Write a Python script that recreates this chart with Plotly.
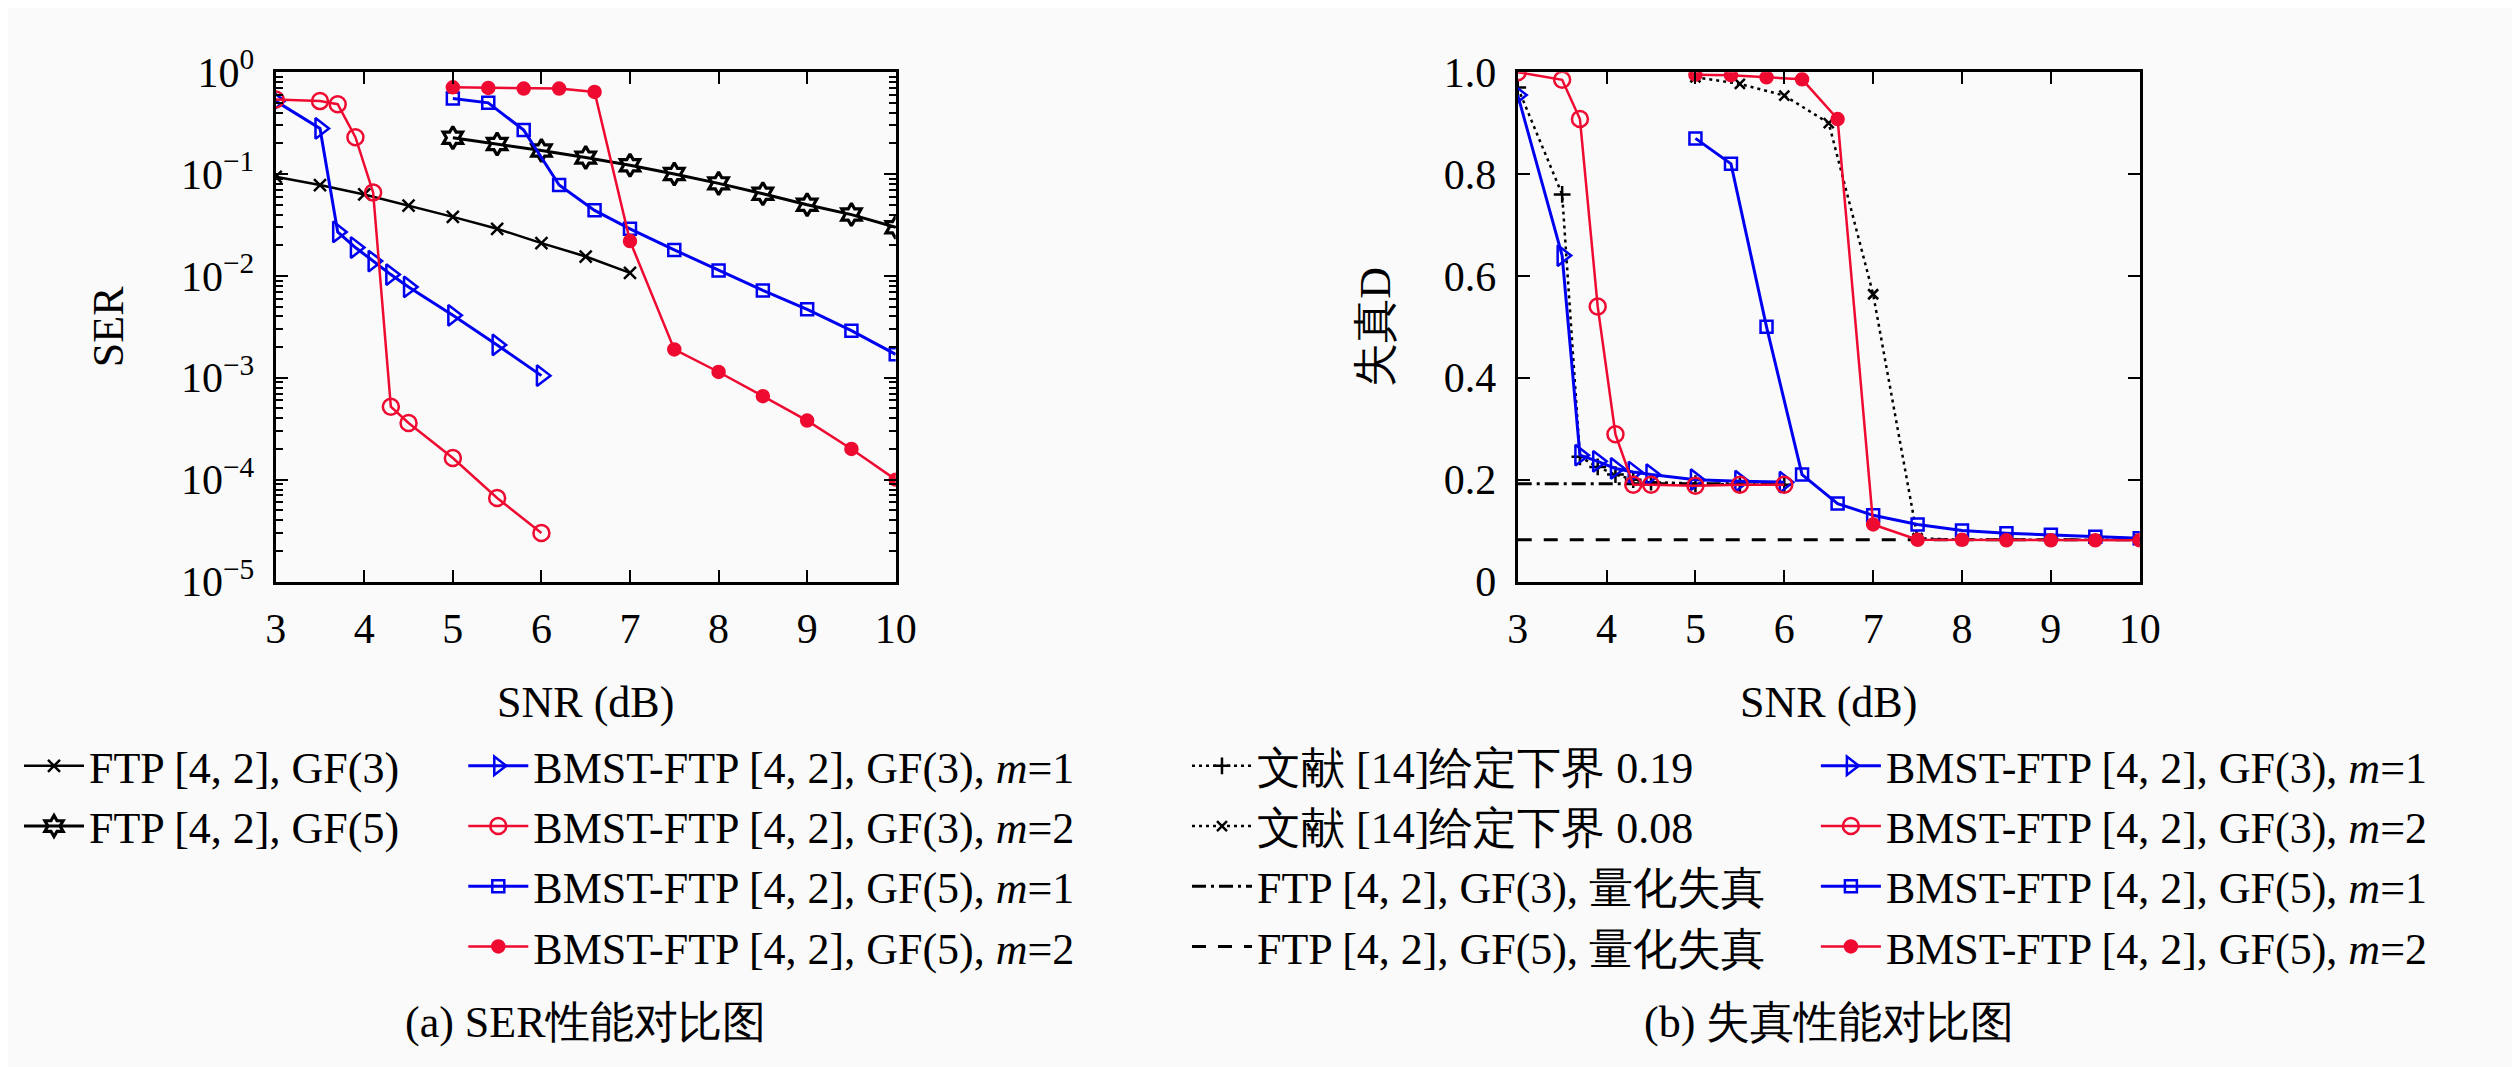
import plotly.graph_objects as go

W, H = 2520, 1067

# ---- (a) SER panel data ----
snr_ftp3 = [3, 3.5, 4, 4.5, 5, 5.5, 6, 6.5, 7]
ser_ftp3 = [0.094, 0.078, 0.063, 0.049, 0.038, 0.029, 0.021, 0.0155, 0.0107]

snr_ftp5 = [5, 5.5, 6, 6.5, 7, 7.5, 8, 8.5, 9, 9.5, 10]
ser_ftp5 = [0.227, 0.197, 0.170, 0.145, 0.122, 0.100, 0.081, 0.064, 0.050, 0.040, 0.030]

snr_gf3 = [3, 3.5, 3.7, 3.9, 4.1, 4.3, 4.5, 5, 5.5, 6]
ser_gf3_m1 = [0.52, 0.28, 0.027, 0.019, 0.014, 0.0103, 0.0078, 0.0041, 0.0021, 0.00105]
ser_gf3_m2 = [0.54, 0.52, 0.485, 0.23, 0.066, 0.00052, 0.00036, 0.000163, 0.000066, 0.00003]

snr_gf5 = [5, 5.4, 5.8, 6.2, 6.6, 7, 7.5, 8, 8.5, 9, 9.5, 10]
ser_gf5_m1 = [0.55, 0.50, 0.27, 0.078, 0.044, 0.029, 0.018, 0.0113, 0.0072, 0.0047, 0.0029, 0.0017]
ser_gf5_m2 = [0.71, 0.70, 0.69, 0.69, 0.64, 0.022, 0.0019, 0.00114, 0.00066, 0.00038, 0.0002, 0.0001]

# ---- (b) distortion panel data ----
snr_ref19 = [3, 3.5, 3.7, 3.9, 4.1, 4.3, 4.5, 5, 5.5, 6]
d_ref19 = [0.97, 0.76, 0.245, 0.225, 0.21, 0.20, 0.195, 0.192, 0.19, 0.19]

snr_ref08 = [5, 5.5, 6, 6.5, 7, 7.5, 8, 8.5, 9, 9.5, 10]
d_ref08 = [0.99, 0.977, 0.954, 0.90, 0.564, 0.085, 0.082, 0.082, 0.082, 0.082, 0.082]

snr_q3 = [3, 6]
d_q3 = [0.192, 0.192]
snr_q5 = [3, 10]
d_q5 = [0.082, 0.082]

d_gf3_m1 = [0.955, 0.64, 0.248, 0.236, 0.222, 0.215, 0.21, 0.20, 0.197, 0.195]
d_gf3_m2 = [1.0, 0.985, 0.908, 0.54, 0.289, 0.19, 0.19, 0.188, 0.19, 0.19]
d_gf5_m1 = [0.87, 0.82, 0.50, 0.21, 0.153, 0.13, 0.112, 0.10, 0.095, 0.092, 0.088, 0.085]
d_gf5_m2 = [0.995, 0.994, 0.99, 0.986, 0.908, 0.112, 0.082, 0.082, 0.081, 0.081, 0.081, 0.081]

# ---- ticks / labels ----
snr_ticks = [3, 4, 5, 6, 7, 8, 9, 10]
ser_ticks = [1, 0.1, 0.01, 0.001, 0.0001, 0.00001]
ser_ticktext = ["10<sup>0</sup>", "10<sup>−1</sup>", "10<sup>−2</sup>",
                "10<sup>−3</sup>", "10<sup>−4</sup>", "10<sup>−5</sup>"]
# minor ticks 2..9 inside each decade
ser_minor = [m * 10.0 ** e for e in range(-5, 0) for m in range(2, 10)]
d_ticks = [0, 0.2, 0.4, 0.6, 0.8, 1.0]
d_ticktext = ["0", "0.2", "0.4", "0.6", "0.8", "1.0"]

name_ftp3 = "FTP [4, 2], GF(3)"
name_ftp5 = "FTP [4, 2], GF(5)"
name_gf3_m1 = "BMST-FTP [4, 2], GF(3), <i>m</i>=1"
name_gf3_m2 = "BMST-FTP [4, 2], GF(3), <i>m</i>=2"
name_gf5_m1 = "BMST-FTP [4, 2], GF(5), <i>m</i>=1"
name_gf5_m2 = "BMST-FTP [4, 2], GF(5), <i>m</i>=2"
name_ref19 = "文献 [14]给定下界 0.19"
name_ref08 = "文献 [14]给定下界 0.08"
name_q3 = "FTP [4, 2], GF(3), 量化失真"
name_q5 = "FTP [4, 2], GF(5), 量化失真"

FONT = "Liberation Serif"
BLUE = "#0000F0"
RED = "#EE0A30"
BG = "#FAFAFA"


def px(x):
    return x / W


def py(y):
    return 1 - y / H


fig = go.Figure()


def add(x, y, name, color, symbol, size, legend, ax, dash="solid", lw=3, mlw=2.5):
    fig.add_trace(go.Scatter(
        x=x, y=y, name=name, mode="lines+markers",
        line=dict(color=color, width=lw, dash=dash),
        marker=dict(symbol=symbol, size=size, color=color,
                    line=dict(color=color, width=mlw)),
        legend=legend,
        xaxis="x" if ax == 1 else "x2",
        yaxis="y" if ax == 1 else "y2",
    ))


# left panel
add(snr_ftp3, ser_ftp3, name_ftp3, "black", "x-thin", 12, "legend", 1, lw=2.5)
add(snr_ftp5, ser_ftp5, name_ftp5, "black", "hexagram-open", 17, "legend", 1, lw=3, mlw=3.2)
add(snr_gf3, ser_gf3_m1, name_gf3_m1, BLUE, "triangle-right-open", 18, "legend2", 1)
add(snr_gf3, ser_gf3_m2, name_gf3_m2, RED, "circle-open", 16, "legend2", 1, lw=2.5)
add(snr_gf5, ser_gf5_m1, name_gf5_m1, BLUE, "square-open", 12, "legend2", 1)
add(snr_gf5, ser_gf5_m2, name_gf5_m2, RED, "circle", 12, "legend2", 1, lw=2.5)

# right panel
add(snr_ref19, d_ref19, name_ref19, "black", "cross-thin", 12, "legend3", 2, dash="3px,4px", lw=2.5)
add(snr_ref08, d_ref08, name_ref08, "black", "x-thin", 10, "legend3", 2, dash="3px,4px", lw=2.5)
fig.add_trace(go.Scatter(x=snr_q3, y=d_q3, name=name_q3, mode="lines",
                         line=dict(color="black", width=3, dash="14px,5px,3px,5px"),
                         legend="legend3", xaxis="x2", yaxis="y2"))
fig.add_trace(go.Scatter(x=snr_q5, y=d_q5, name=name_q5, mode="lines",
                         line=dict(color="black", width=3, dash="14px,12px"),
                         legend="legend3", xaxis="x2", yaxis="y2"))
add(snr_gf3, d_gf3_m1, name_gf3_m1, BLUE, "triangle-right-open", 18, "legend4", 2)
add(snr_gf3, d_gf3_m2, name_gf3_m2, RED, "circle-open", 16, "legend4", 2, lw=2.5)
add(snr_gf5, d_gf5_m1, name_gf5_m1, BLUE, "square-open", 12, "legend4", 2)
add(snr_gf5, d_gf5_m2, name_gf5_m2, RED, "circle", 12, "legend4", 2, lw=2.5)

axis_common = dict(
    showline=True, linecolor="black", linewidth=3, mirror="ticks",
    ticks="inside", ticklen=12, tickwidth=2, tickcolor="black",
    showgrid=False, zeroline=False,
    tickfont=dict(family=FONT, size=42, color="black"),
    title_font=dict(family=FONT, size=44, color="black"),
)

y_dom = [py(573), py(37)]

fig.update_layout(
    width=W, height=H,
    margin=dict(l=0, r=0, t=0, b=0),
    paper_bgcolor=BG, plot_bgcolor=BG,
    font=dict(family=FONT, color="black"),
    xaxis=dict(domain=[px(260), px(888)], range=[3, 10], tickvals=snr_ticks,
               anchor="y", title=dict(text="SNR (dB)", standoff=36),
               ticklabelstandoff=8, **axis_common),
    yaxis=dict(domain=y_dom, type="log", range=[-5, 0], tickvals=ser_ticks,
               ticktext=ser_ticktext, anchor="x",
               minor=dict(tickmode="array", tickvals=ser_minor, ticks="inside",
                          ticklen=7, tickwidth=1.5, tickcolor="black", showgrid=False),
               title=dict(text="SER", standoff=44), ticklabelstandoff=10,
               **axis_common),
    xaxis2=dict(domain=[px(1518), px(2148)], range=[3, 10], tickvals=snr_ticks,
                anchor="y2", title=dict(text="SNR (dB)", standoff=36),
                ticklabelstandoff=8, **axis_common),
    yaxis2=dict(domain=y_dom, range=[0, 1], tickvals=d_ticks, ticktext=d_ticktext,
                anchor="x2", title=dict(text="失真D", standoff=40),
                ticklabelstandoff=10, **axis_common),
)

leg_common = dict(xanchor="left", yanchor="top", bgcolor="rgba(0,0,0,0)",
                  font=dict(family=FONT, size=44, color="black"),
                  tracegroupgap=0, itemwidth=60)
fig.update_layout(
    legend=dict(x=px(0), y=py(730), **leg_common),
    legend2=dict(x=px(450), y=py(730), **leg_common),
    legend3=dict(x=px(1183), y=py(730), **leg_common),
    legend4=dict(x=px(1820), y=py(730), **leg_common),
)

captions = [("(a) SER性能对比图", 574), ("(b) 失真性能对比图", 1833)]
for text, cx in captions:
    fig.add_annotation(x=px(cx), y=py(1037), xref="paper", yref="paper",
                       text=text, showarrow=False, xanchor="center", yanchor="middle",
                       font=dict(family=FONT, size=44, color="black"))

fig.write_html("out.html")
